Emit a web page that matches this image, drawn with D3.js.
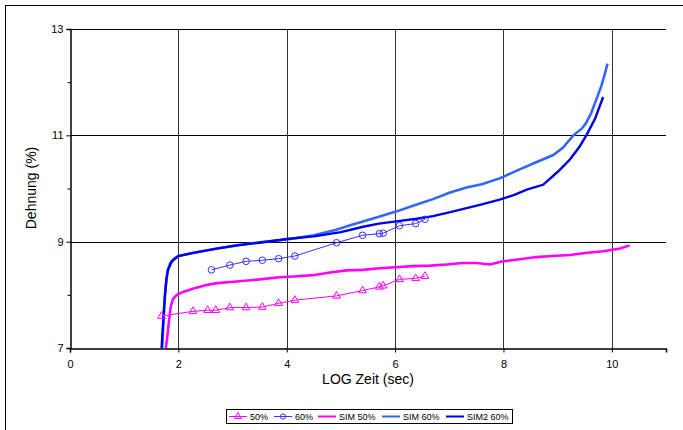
<!DOCTYPE html>
<html><head><meta charset="utf-8">
<script src="https://cdn.jsdelivr.net/npm/d3@7"></script>
<style>body{margin:0;background:#fff;font-family:"Liberation Sans",Arial,sans-serif}</style>
</head><body><svg id="c" width="683" height="430"></svg>
<script>
const xTicks=[0,2,4,6,8,10];
const yTicks=[7,9,11,13];
const yMinor=[8,10,12];
const seriesNames=["50%","60%","SIM 50%","SIM 60%","SIM2 60%"];
const colors=["#FF00FF","#3333FF","#FF00FF","#3366FF","#0000EE"];
const x50=[1.69,2.27,2.54,2.69,2.95,3.25,3.55,3.85,4.15,4.92,5.40,5.71,5.78,6.08,6.38,6.55];
const y50=[7.60,7.69,7.71,7.71,7.76,7.76,7.77,7.84,7.90,7.98,8.08,8.15,8.17,8.29,8.31,8.35];
const x60=[2.61,2.95,3.25,3.55,3.85,4.15,4.92,5.40,5.71,5.78,6.08,6.38,6.55];
const y60=[8.47,8.56,8.63,8.65,8.68,8.73,8.98,9.12,9.15,9.16,9.30,9.34,9.42];
const xSim50=[1.77,1.80,1.83,1.86,1.90,1.97,2.1,2.28,2.5,2.71,3.08,3.5,3.87,4.2,4.49,4.8,5.1,5.4,5.72,6.0,6.33,6.65,6.95,7.25,7.5,7.75,7.99,8.3,8.61,8.9,9.23,9.55,9.84,10.15,10.33];
const ySim50=[7.0,7.25,7.53,7.78,7.92,8.0,8.06,8.12,8.18,8.22,8.25,8.29,8.33,8.35,8.37,8.42,8.46,8.47,8.50,8.52,8.54,8.55,8.57,8.60,8.60,8.57,8.63,8.67,8.71,8.73,8.75,8.79,8.82,8.87,8.93];
const xSim60=[1.70,1.73,1.76,1.80,1.85,1.92,2.0,2.28,2.71,3.08,3.5,4.0,4.5,4.9,5.2,5.41,5.7,6.03,6.4,6.7,7.0,7.32,7.6,7.93,8.3,8.55,8.92,9.1,9.29,9.45,9.53,9.62,9.72,9.81,9.87,9.92];
const ySim60=[7.0,7.6,8.1,8.45,8.6,8.68,8.73,8.79,8.87,8.93,8.99,9.04,9.12,9.22,9.32,9.38,9.47,9.57,9.70,9.80,9.92,10.02,10.08,10.19,10.36,10.47,10.63,10.77,11.0,11.13,11.24,11.42,11.69,11.94,12.15,12.35];
const xSim2=[1.69,1.72,1.75,1.78,1.81,1.88,2.0,2.28,2.71,3.08,3.5,4.0,4.5,5.0,5.41,5.7,6.09,6.4,6.7,7.0,7.32,7.6,7.93,8.2,8.43,8.73,8.92,9.04,9.23,9.4,9.53,9.69,9.78,9.84];
const ySim2=[7.0,7.5,7.96,8.3,8.47,8.63,8.73,8.79,8.87,8.93,8.98,9.05,9.10,9.18,9.28,9.34,9.39,9.43,9.48,9.55,9.63,9.70,9.79,9.88,9.98,10.07,10.24,10.35,10.55,10.78,11.0,11.31,11.56,11.72];

const svg=d3.select("#c");
svg.append("rect").attr("x",5.5).attr("y",5.5).attr("width",800).attr("height",600).attr("fill","#fff").attr("stroke","#000").attr("stroke-width",1);
const x=d3.scaleLinear().domain([0,11]).range([70,666]);
const y=d3.scaleLinear().domain([7,13]).range([348,29]);
const g=svg.append("g");
g.selectAll(".hg").data(yTicks.slice(1)).join("line").attr("x1",70).attr("x2",666)
 .attr("y1",d=>Math.round(y(d))+0.5).attr("y2",d=>Math.round(y(d))+0.5).attr("stroke","#000");
g.selectAll(".vg").data(xTicks.slice(1)).join("line").attr("y1",29).attr("y2",348)
 .attr("x1",d=>Math.round(x(d))+0.5).attr("x2",d=>Math.round(x(d))+0.5).attr("stroke","#333");
svg.append("g").attr("transform","translate(70.5,0)")
 .call(d3.axisLeft(y).tickValues(yTicks).tickSize(4).tickPadding(3).tickFormat(d3.format("d")));
const yMin=svg.append("g").attr("transform","translate(70.5,0)")
 .call(d3.axisLeft(y).tickValues(yMinor).tickSize(3).tickFormat(""));
yMin.select(".domain").remove();
svg.append("g").attr("transform","translate(0,348.5)")
 .call(d3.axisBottom(x).tickValues(xTicks).tickSize(4).tickPadding(8).tickFormat(d3.format("d")));
svg.selectAll(".domain").attr("stroke","#000").attr("stroke-width",1.5);
svg.selectAll(".tick line").attr("stroke","#000");
svg.selectAll(".tick text").attr("font-family","Liberation Sans, Arial").attr("font-size",11).attr("fill","#000");
svg.append("text").attr("x",368).attr("y",384).attr("text-anchor","middle").attr("font-size",14).text("LOG Zeit (sec)");
svg.append("text").attr("transform","translate(36,188) rotate(-90)").attr("text-anchor","middle").attr("font-size",14).text("Dehnung (%)");

const line=d3.line().x(d=>x(d[0])).y(d=>y(d[1]));
svg.append("clipPath").attr("id","pc").append("rect").attr("x",70).attr("y",29).attr("width",596).attr("height",319);
const plot=svg.append("g").attr("clip-path","url(#pc)");
function z(a,b){return a.map((v,i)=>[v,b[i]]);}
plot.append("path").datum(z(xSim50,ySim50)).attr("d",line).attr("fill","none").attr("stroke",colors[2]).attr("stroke-width",2.6);
plot.append("path").datum(z(xSim60,ySim60)).attr("d",line).attr("fill","none").attr("stroke",colors[3]).attr("stroke-width",2.6);
plot.append("path").datum(z(xSim2,ySim2)).attr("d",line).attr("fill","none").attr("stroke",colors[4]).attr("stroke-width",2.4);
const d50=z(x50,y50), d60=z(x60,y60);
plot.append("path").datum(d50).attr("d",line).attr("fill","none").attr("stroke",colors[0]).attr("stroke-width",1);
plot.append("path").datum(d60).attr("d",line).attr("fill","none").attr("stroke",colors[1]).attr("stroke-width",1);
const tri=d3.symbol().type(d3.symbolTriangle).size(26);
plot.selectAll(".t").data(d50).join("path").attr("d",tri).attr("transform",d=>`translate(${x(d[0])},${y(d[1])})`)
 .attr("fill","none").attr("stroke",colors[0]).attr("stroke-width",1);
plot.selectAll(".o").data(d60).join("circle").attr("cx",d=>x(d[0])).attr("cy",d=>y(d[1])).attr("r",3.3)
 .attr("fill","none").attr("stroke",colors[1]).attr("stroke-width",1);

const lg=svg.append("g");
lg.append("rect").attr("x",226.5).attr("y",409.5).attr("width",286).attr("height",14).attr("fill","#fff").attr("stroke","#000");
const lx=[229,274,318,382,446];
seriesNames.forEach((n,i)=>{
  lg.append("line").attr("x1",lx[i]).attr("x2",lx[i]+18).attr("y1",416.5).attr("y2",416.5).attr("stroke",colors[i]).attr("stroke-width",i<2?1:2);
  if(i===0) lg.append("path").attr("d",d3.symbol().type(d3.symbolTriangle).size(20)).attr("transform",`translate(${lx[i]+9},416.5)`).attr("fill","none").attr("stroke",colors[i]);
  if(i===1) lg.append("circle").attr("cx",lx[i]+9).attr("cy",416.5).attr("r",2.6).attr("fill","none").attr("stroke",colors[i]);
  lg.append("text").attr("x",lx[i]+21).attr("y",419.7).attr("font-size",9).text(n);
});
</script></body></html>
